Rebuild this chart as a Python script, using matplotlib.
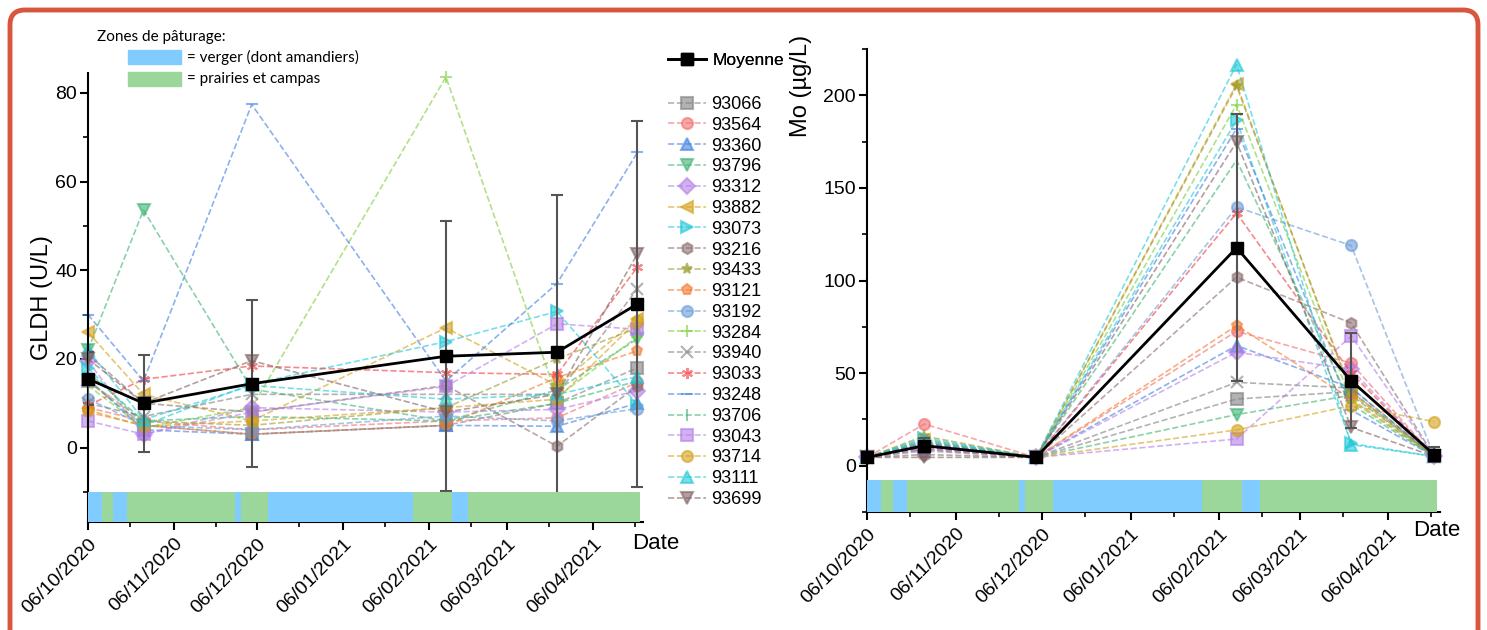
import matplotlib
matplotlib.use('Agg')
import matplotlib.pyplot as plt
import matplotlib.dates as mdates
import pandas as pd
from matplotlib.patches import Rectangle, FancyBboxPatch

plt.rcParams['font.family'] = ['Liberation Sans', 'DejaVu Sans']

# ---- data ----
sample_dates = pd.to_datetime(['2020-10-06', '2020-10-26', '2020-12-04',
                               '2021-02-12', '2021-03-24', '2021-04-22'])
animals = ['93066', '93564', '93360', '93796', '93312', '93882', '93073',
           '93216', '93433', '93121', '93192', '93284', '93940', '93033',
           '93248', '93706', '93043', '93714', '93111', '93699']

# GLDH (U/L), one row per animal
gldh = [
    [15, 5, 3, 5, 10, 18],
    [9, 6, 4, 6, 6.7, 14.7],
    [15.5, 4, 3, 5, 4.8, 10],
    [22, 53.6, 13.2, 6, 13, 24.5],
    [19.5, 3, 9, 8, 8.6, 12.8],
    [26, 12, 6, 27, 14, 29],
    [18, 5, 14.3, 23.9, 30.7, 9.7],
    [21, 10, 8, 14, 0.3, 13.9],
    [15, 6, 5, 9, 20, 27],
    [8, 5, 3, 5, 15.8, 21.8],
    [11, 5, 4, 7.1, 6, 8.8],
    [14, 4.5, 9, 83.6, 11.4, 25],
    [10, 7, 12, 12, 12, 35.8],
    [9.5, 15.4, 18.4, 16.9, 16.5, 40.7],
    [30, 15, 77.4, 15, 37, 66.6],
    [17, 6, 7, 6, 10, 15],
    [6, 3, 8, 13.8, 27.9, 26.7],
    [8.5, 4.8, 6, 9, 10.9, 28.6],
    [22, 6.3, 14, 10.9, 12, 16],
    [20, 10, 19.6, 8, 12, 43.7],
]
gldh_mean = [15.5, 10.0, 14.4, 20.6, 21.5, 32.4]
gldh_sd = [6.0, 10.9, 18.9, 30.5, 35.5, 41.2]

# Mo (ug/L), one row per animal
mo = [
    [4.5, 8, 4.5, 36, 40, 5],
    [4.5, 22.5, 4.5, 72.6, 55.3, 5],
    [4.5, 12, 4.5, 64.9, 42, 5],
    [4.5, 9, 4.5, 27.6, 38, 5],
    [4.5, 10, 4.5, 61.3, 52, 5],
    [4.5, 14, 4.5, 206, 38.8, 5],
    [4.5, 15, 4.5, 186.5, 12, 5],
    [4.5, 6, 4.5, 101.8, 77, 5],
    [4.5, 16, 4.5, 205, 40, 5],
    [4.5, 12, 4.5, 75.7, 36, 5],
    [4.5, 13, 4.5, 139.6, 118.9, 5],
    [4.5, 11, 4.5, 195, 35, 5],
    [4.5, 9, 4.5, 45, 42, 5],
    [4.5, 10, 4.5, 136.4, 50, 5],
    [4.5, 12, 4.5, 182, 30, 5],
    [4.5, 13, 4.5, 165, 33, 5],
    [4.5, 9, 4.5, 14.4, 70, 5],
    [4.5, 11, 4.5, 19.3, 32.4, 23.8],
    [4.5, 14, 4.5, 216.6, 11.4, 5],
    [4.5, 4.5, 4.5, 174.8, 20.7, 5],
]
mo_mean = [4.5, 10.8, 4.5, 117.7, 45.9, 5.9]
mo_sd = [1.0, 4.0, 0.5, 72.0, 25.5, 4.0]

# grazing zones (start dates, last one is the end)
zone_edges = pd.to_datetime(['2020-10-06', '2020-10-11', '2020-10-15', '2020-10-20',
                             '2020-11-28', '2020-11-30', '2020-12-10', '2021-01-31',
                             '2021-02-14', '2021-02-20', '2021-04-23'])
zone_kind = ['verger', 'prairie', 'verger', 'prairie', 'verger', 'prairie',
             'verger', 'prairie', 'verger', 'prairie']

# ---- styles ----
colors = ['#808080', '#f26d6d', '#3f7fe0', '#3cb371', '#b57ee8', '#d4a017', '#20c8d8',
          '#8b6b6b', '#9a9a30', '#f5792a', '#6a9bd8', '#7ccd3a', '#808080', '#f03c3c',
          '#3f7fe0', '#3cb371', '#b57ee8', '#d4a017', '#20c8d8', '#7f5f5f']
markers = ['s', 'o', '^', 'v', 'D', '<', '>', 'h', '*', 'p', 'o', '+', 'x', (6, 2, 0),
           '_', '|', 's', 'o', '^', 'v']
zone_colors = {'verger': '#80ccff', 'prairie': '#9bd69b'}


def draw_panel(ax, values, mean, sd, ylim, band_top, ylabel):
    for row, name, c, m in zip(values, animals, colors, markers):
        ax.plot(sample_dates, row, ls='--', lw=1.2, color=c, alpha=0.6,
                marker=m, ms=8, mew=1.5, label=name, zorder=2, clip_on=False)
    ax.errorbar(sample_dates, mean, yerr=sd, fmt='none', ecolor='#555555',
                elinewidth=1.5, capsize=4, capthick=1.5, zorder=3)
    # grazing band
    x0 = mdates.date2num(zone_edges)
    for kind in zone_colors:
        segs = [(x0[i], x0[i + 1] - x0[i]) for i in range(len(zone_kind))
                if zone_kind[i] == kind]
        ax.broken_barh(segs, (ylim[0], band_top - ylim[0]),
                       facecolors=zone_colors[kind], zorder=4)
    ax.plot(sample_dates, mean, color='black', lw=2, marker='s', ms=8,
            label='Moyenne', zorder=6, clip_on=False)

    ax.set_ylim(*ylim)
    ax.set_xlim(pd.Timestamp('2020-10-06'), pd.Timestamp('2021-04-24'))
    ax.xaxis.set_major_locator(mdates.MonthLocator(bymonthday=6))
    ax.xaxis.set_minor_locator(mdates.MonthLocator(bymonthday=21))
    ax.xaxis.set_major_formatter(mdates.DateFormatter('%d/%m/%Y'))
    for lab in ax.get_xticklabels():
        lab.set_rotation(45)
        lab.set_ha('right')
        lab.set_rotation_mode('anchor')
    for s in ['top', 'right']:
        ax.spines[s].set_visible(False)
    for s in ['left', 'bottom']:
        ax.spines[s].set_linewidth(1.5)
    ax.tick_params(which='major', length=6, width=1.5, labelsize=14)
    ax.tick_params(axis='y', which='major', pad=2)
    ax.tick_params(which='minor', length=3.5, width=1.2)
    ax.set_ylabel(ylabel, fontsize=17)


fig = plt.figure(figsize=(14.87, 6.30), dpi=100)
ax1 = fig.add_axes([88 / 1487, 1 - 522 / 630, 555 / 1487, 449 / 630])
ax2 = fig.add_axes([867 / 1487, 1 - 512 / 630, 573 / 1487, 463 / 630])

draw_panel(ax1, gldh, gldh_mean, gldh_sd, (-16.8, 84.5), -10, 'GLDH (U/L)')
ax1.set_yticks([0, 20, 40, 60, 80])
ax1.set_yticks(range(-10, 81, 20), minor=True)
ax1.yaxis.set_label_coords(-0.063, 0.5)
ax1.text(1.023, -0.047, 'Date', transform=ax1.transAxes, fontsize=16,
         ha='center', va='center')

draw_panel(ax2, mo, mo_mean, mo_sd, (-25, 225), -7.7, 'Mo (µg/L)')
ax2.set_yticks([0, 50, 100, 150, 200])
ax2.set_yticks(range(-25, 226, 50), minor=True)
ax2.yaxis.set_label_coords(-0.096, 0.92)
ax2.text(0.995, -0.039, 'Date', transform=ax2.transAxes, fontsize=16,
         ha='center', va='center')

# legends
handles, labels = ax1.get_legend_handles_labels()
leg_mean = fig.legend(handles[-1:], labels[-1:], loc='center left',
                      bbox_to_anchor=(668 / 1487, 1 - 60 / 630), frameon=False,
                      fontsize=12.5, handlelength=2.2, handletextpad=0.35, borderpad=0,
                      borderaxespad=0)
fig.legend(handles[:-1], labels[:-1], loc='upper left',
           bbox_to_anchor=(668 / 1487, 1 - 96 / 630), frameon=False,
           fontsize=13, handlelength=2.1, handletextpad=0.3, borderpad=0,
           borderaxespad=0, labelspacing=0.21)
fig.add_artist(leg_mean)

# zone key
zfont = ['Lato', 'DejaVu Sans']
fig.text(97 / 1487, 1 - 37 / 630, 'Zones de pâturage:', fontsize=11, family=zfont,
         va='center')
fig.add_artist(Rectangle((128 / 1487, 1 - 64 / 630), 53 / 1487, 14 / 630,
                         transform=fig.transFigure, color=zone_colors['verger']))
fig.add_artist(Rectangle((128 / 1487, 1 - 86 / 630), 53 / 1487, 14 / 630,
                         transform=fig.transFigure, color=zone_colors['prairie']))
fig.text(187 / 1487, 1 - 57 / 630, '= verger (dont amandiers)', fontsize=11,
         family=zfont, va='center')
fig.text(187 / 1487, 1 - 79 / 630, '= prairies et campas', fontsize=11,
         family=zfont, va='center')

# red frame
fig.add_artist(FancyBboxPatch((0.1, -0.3), 14.68, 6.5,
                              boxstyle='round,pad=0,rounding_size=0.15',
                              transform=fig.dpi_scale_trans, fill=False,
                              edgecolor='#d9553f', lw=3.5))

fig.savefig('out.png', dpi=100)
